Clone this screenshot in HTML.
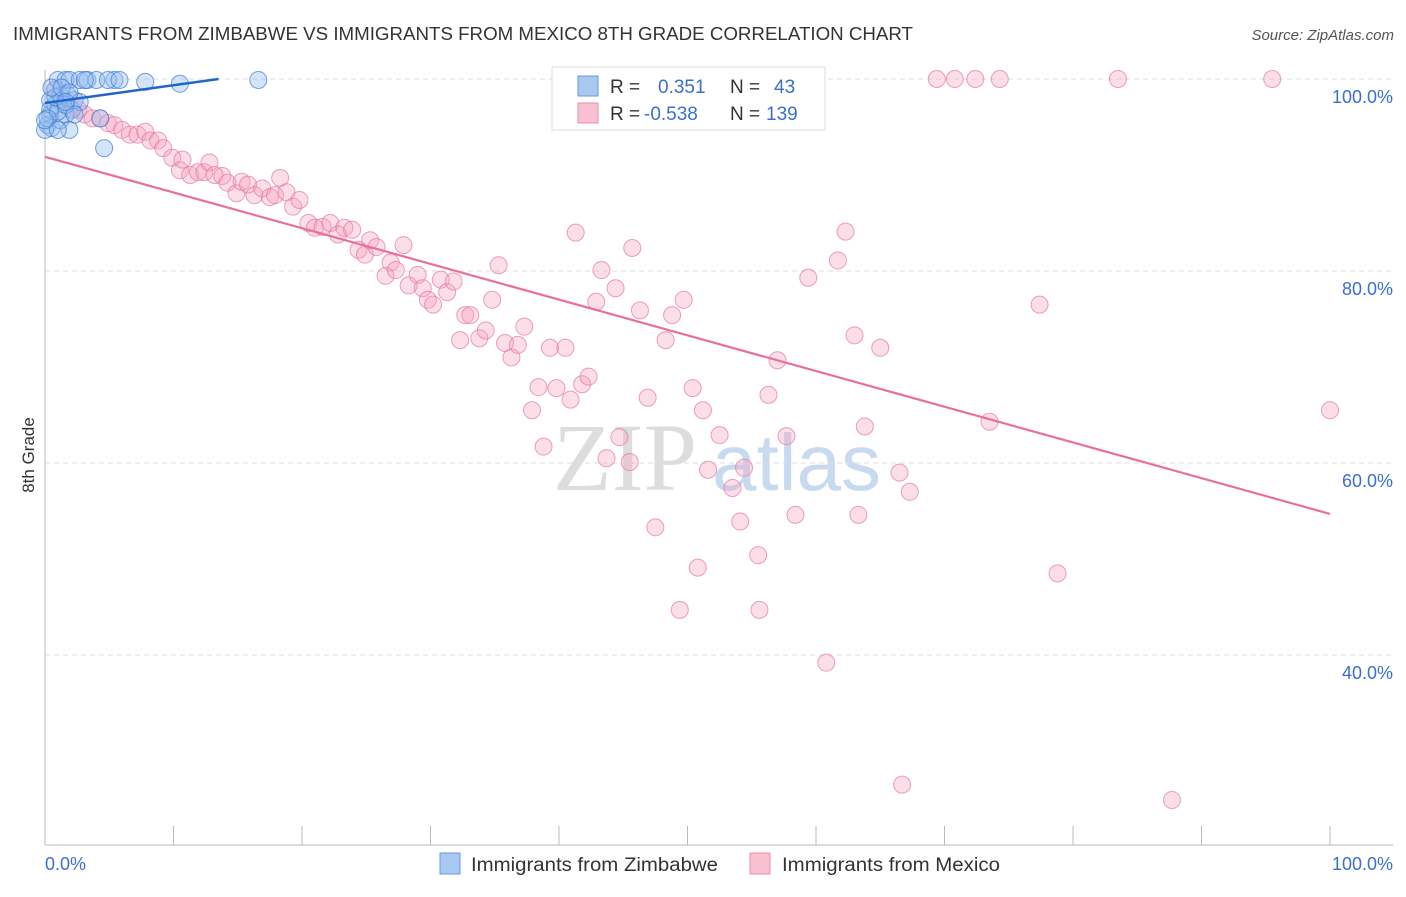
<!DOCTYPE html>
<html><head><meta charset="utf-8"><style>
body{margin:0;background:#fff;font-family:"Liberation Sans",sans-serif}
</style></head><body>
<svg id="c" width="1406" height="892" xmlns="http://www.w3.org/2000/svg" style="font-family:'Liberation Sans',sans-serif">
<text x="13" y="40" font-size="18" fill="#333" textLength="900" lengthAdjust="spacingAndGlyphs">IMMIGRANTS FROM ZIMBABWE VS IMMIGRANTS FROM MEXICO 8TH GRADE CORRELATION CHART</text>
<text x="1394" y="40" font-size="15" fill="#555" text-anchor="end" font-style="italic">Source: ZipAtlas.com</text>
<text x="34" y="455" font-size="17" fill="#333" transform="rotate(-90 34 455)" text-anchor="middle">8th Grade</text>
<g><text x="553" y="490" font-size="96" fill="#ddd" font-family="Liberation Serif,serif">ZIP</text><text x="712" y="490" font-size="80" fill="#c8daf0">atlas</text></g>
<g id="grid"></g><g id="axes"></g><g id="pts"></g><g id="lines"></g>
<g>
<rect x="552" y="67" width="273" height="63" fill="#fff" stroke="#ddd"/>
<rect x="578" y="76" width="20" height="20" fill="#a9c8f0" stroke="#6699dd"/>
<rect x="578" y="103" width="20" height="20" fill="#f8c0d0" stroke="#e890aa"/>
<text y="93" font-size="19" fill="#333"><tspan x="610">R =</tspan><tspan x="658" fill="#3a6fd0">0.351</tspan><tspan x="730">N =</tspan><tspan x="774" fill="#3a6fd0">43</tspan></text>
<text y="120" font-size="19" fill="#333"><tspan x="610">R =</tspan><tspan x="644" fill="#3a6fd0">-0.538</tspan><tspan x="730">N =</tspan><tspan x="766" fill="#3a6fd0">139</tspan></text>
</g>
<g>
<rect x="440" y="853" width="20" height="21" fill="#a9c8f0" stroke="#6699dd"/>
<text x="471" y="871" font-size="19" fill="#333" textLength="247" lengthAdjust="spacingAndGlyphs">Immigrants from Zimbabwe</text>
<rect x="750" y="853" width="20" height="21" fill="#f8c0d0" stroke="#e890aa"/>
<text x="782" y="871" font-size="19" fill="#333" textLength="218" lengthAdjust="spacingAndGlyphs">Immigrants from Mexico</text>
</g>
</svg>
<script>
const yTicks=[100,80,60,40];
const yTickLabels=["100.0%","80.0%","60.0%","40.0%"];
const xTickVals=[0,10,20,30,40,50,60,70,80,90,100];
const blueX=[0.4,0.8,1.0,1.6,1.9,2.7,3.3,4.0,5.4,7.8,10.5,16.6,0.4,0.2,0.5,1.2,0.8,1.3,1.8,2.1,2.3,1.6,0,1.9,4.6,1.2,0.4,1.0,1.6,0.2,2.7,4.3,0.8,0.5,1.3,1.9,0,1.0,3.1,4.9,5.8,2.3,1.6];
const blueY=[97.8,98.9,99.9,99.9,99.9,99.9,99.9,99.9,99.9,99.7,99.5,99.9,96.3,95.2,94.9,95.7,97.3,97.8,98.3,96.8,97.8,96.3,94.7,94.7,92.8,98.3,96.8,96.6,97.3,95.9,97.6,95.9,98.1,99.1,99.1,98.6,95.7,94.7,99.9,99.9,99.9,96.3,97.6];
const pinkX=[0.8,1.3,1.9,2.6,3.1,3.7,4.3,4.9,5.4,6.0,6.6,7.2,7.8,8.2,8.8,9.2,9.9,10.5,10.7,11.3,11.9,12.4,12.8,13.2,13.8,14.2,14.9,15.3,15.8,16.3,16.9,17.5,17.9,18.3,18.8,19.3,19.8,20.5,21.0,21.6,22.2,22.8,23.3,23.9,24.4,24.9,25.3,25.8,26.5,26.9,27.3,27.9,28.3,29.0,29.4,29.8,30.2,30.8,31.3,31.8,32.3,32.7,33.1,33.8,34.3,34.8,35.3,35.8,36.3,36.8,37.3,37.9,38.4,38.8,39.3,39.8,40.5,40.9,41.3,41.8,42.3,42.9,43.3,43.7,44.4,44.7,45.5,45.7,46.3,46.9,47.5,48.3,48.8,49.4,49.7,50.4,50.8,51.2,51.6,52.5,53.5,54.1,54.4,55.5,55.6,56.3,57.0,57.7,58.4,59.4,60.8,61.7,62.3,63.0,63.3,63.8,65.0,66.5,66.7,67.3,69.4,70.8,72.4,73.5,74.3,77.4,78.8,83.5,87.7,95.5,100,47.9,58.8,59.9];
const pinkY=[98.9,97.8,97.0,96.8,96.3,95.9,95.9,95.4,95.2,94.7,94.2,94.2,94.5,93.6,93.6,92.8,91.8,90.5,91.6,90.0,90.3,90.3,91.3,90.0,89.9,89.2,88.1,89.3,89.0,87.9,88.6,87.7,87.9,89.7,88.2,86.7,87.4,85.0,84.5,84.6,85.0,83.8,84.5,84.3,82.2,81.7,83.2,82.5,79.5,80.9,80.1,82.7,78.5,79.6,78.2,77.0,76.5,79.1,77.8,78.9,72.8,75.4,75.4,73.0,73.8,77.0,80.6,72.5,71.0,72.3,74.2,65.5,67.9,61.7,72.0,67.8,72.0,66.6,84.0,68.2,69.0,76.8,80.1,60.5,78.2,62.7,60.1,82.4,75.9,66.8,53.3,72.8,75.4,44.7,77.0,67.8,49.1,65.5,59.3,62.9,57.4,53.9,59.5,50.4,44.7,67.1,70.7,62.8,54.6,79.3,39.2,81.1,84.1,73.3,54.6,63.8,72.0,59.0,26.5,57.0,100,100,100,64.3,100,76.5,48.5,100,24.9,100,65.5,100,100,100];
const blueTrend=[[0,97.5],[13.5,100]];
const pinkTrend=[[0,91.9],[100,54.7]];
const NS="http://www.w3.org/2000/svg";
const sx=v=>45+v*12.85, sy=v=>79+(100-v)*9.6;
function mk(p,t,a){const e=document.createElementNS(NS,t);for(const k in a)e.setAttribute(k,a[k]);document.getElementById(p).appendChild(e);return e;}
yTicks.forEach((t,i)=>{
 const g=mk('grid','line',{x1:45,x2:1393,y1:sy(t),y2:sy(t),stroke:'#ddd','stroke-dasharray':'5,4'});
 
 
 const l=mk('grid','text',{x:1393,y:sy(t)+24,'font-size':18,fill:'#3a6fd0','text-anchor':'end'});
 l.textContent=yTickLabels[i];
 
 
});
const ax=mk('axes','line',{x1:45,x2:1393,y1:845,y2:845,stroke:'#bbb'});


const ay=mk('axes','line',{x1:45,x2:45,y1:70,y2:845,stroke:'#bbb'});


xTickVals.forEach(v=>{const t=mk('axes','line',{x1:sx(v),x2:sx(v),y1:826,y2:845,stroke:'#bbb'});
 
 });
const x0=mk('axes','text',{x:45,y:870,'font-size':18,fill:'#3a6fd0'});x0.textContent='0.0%';


const x1=mk('axes','text',{x:1393,y:870,'font-size':18,fill:'#3a6fd0','text-anchor':'end'});x1.textContent='100.0%';


pinkX.forEach((v,i)=>{const c=mk('pts','circle',{cx:sx(v),cy:sy(pinkY[i]),r:8.5,fill:'rgba(245,160,190,0.35)',stroke:'rgba(230,120,160,0.7)'});
 
 });
blueX.forEach((v,i)=>{const c=mk('pts','circle',{cx:sx(v),cy:sy(blueY[i]),r:8.5,fill:'rgba(150,190,240,0.4)',stroke:'rgba(60,120,210,0.7)'});
 
 });
const pl=mk('lines','line',{x1:sx(pinkTrend[0][0]),y1:sy(pinkTrend[0][1]),x2:sx(pinkTrend[1][0]),y2:sy(pinkTrend[1][1]),stroke:'#e8709a','stroke-width':2.2});


const bl=mk('lines','line',{x1:sx(blueTrend[0][0]),y1:sy(blueTrend[0][1]),x2:sx(blueTrend[1][0]),y2:sy(blueTrend[1][1]),stroke:'#2266cc','stroke-width':2.5});


</script>
</body></html>
